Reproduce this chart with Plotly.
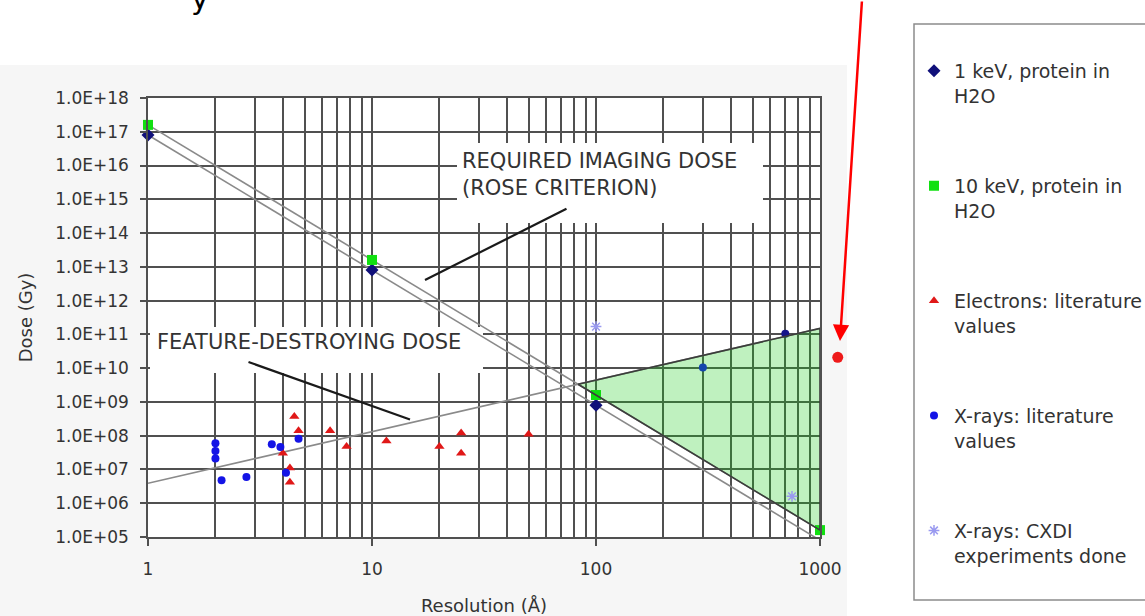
import math
import plotly.graph_objects as go

# ---------------- data ----------------
# Simulated Rose-criterion imaging dose (resolution in Å, dose in Gy)
res_sim = [1, 10, 100, 1000]
dose_1kev = [8e16, 8e12, 8e8, 8e4]
dose_10kev = [1.6e17, 1.6e13, 1.6e9, 1.6e5]

# Feature-destroying dose line (end points)
feature_res = [1, 1000]
feature_dose = [3.9e6, 1.5e11]

# Electron literature values
electron_res = [4.5, 4.7, 6.5, 7.7, 4.0, 4.3, 4.3, 11.6, 20, 25, 25, 50]
electron_dose = [3.7e8, 1.4e8, 1.4e8, 4.8e7, 3e7, 1.1e7, 4.2e6, 7e7, 4.8e7, 1.2e8, 3e7, 1.1e8]

# X-ray literature values
xray_res = [2, 2, 2, 2.13, 2.75, 3.57, 3.9, 4.13, 4.7, 300, 700]
xray_dose = [6e7, 3.5e7, 2.1e7, 4.8e6, 6e6, 5.6e7, 4.6e7, 8e6, 8.1e7, 1.05e10, 1.05e11]

# X-ray CXDI experiments
cxdi_res = [100, 750]
cxdi_dose = [1.7e11, 1.6e6]

# Highlighted point beyond the axis range
mark_res = [1200]
mark_dose = [2.1e10]

x_tick_vals = [1, 10, 100, 1000]
x_tick_text = ["1", "10", "100", "1000"]
y_tick_vals = [10.0 ** k for k in range(5, 19)]
y_tick_text = [f"{v:.1E}" for v in y_tick_vals]

legend_names = [
    "1 keV, protein in<br>H2O",
    "10 keV, protein in<br>H2O",
    "Electrons: literature<br>values",
    "X-rays: literature<br>values",
    "X-rays: CXDI<br>experiments done",
]

# ---------------- geometry helpers ----------------
W, H = 1145, 616
L, R, T, B = 148, 285, 98, 79
PW = W - L - R          # paper width in px
PH = H - T - B          # paper height in px
MAIN_W = 672            # width of the main plot area in px
X_DEC = 3               # decades on the x axis
Y_LO, Y_HI = 5, 18      # y axis range in log10


def px(xp):
    return (xp - L) / PW


def py(yp):
    return (H - B - yp) / PH


def xd(xp):
    # pixel column -> resolution value on the main axis
    return 10 ** (X_DEC * (xp - L) / MAIN_W)


def yd(yp):
    # pixel row -> dose value on the main axis
    return 10 ** (Y_LO + (Y_HI - Y_LO) * (H - B - yp) / PH)


FONT = "DejaVu Sans"
GRID = "#505050"
TXT = "#333333"

# Green region: between the feature-destroying line and the 10 keV line
fa = math.log10(feature_dose[0])
fb = (math.log10(feature_dose[1]) - fa) / (math.log10(feature_res[1]) - math.log10(feature_res[0]))
ga = math.log10(dose_10kev[0])
gb = (math.log10(dose_10kev[-1]) - ga) / (math.log10(res_sim[-1]) - math.log10(res_sim[0]))
lx = (ga - fa) / (fb - gb)
cross_res = 10 ** lx
cross_dose = 10 ** (fa + fb * lx)
fill_x = [cross_res, feature_res[1], res_sim[-1], cross_res]
fill_y = [cross_dose, feature_dose[1], dose_10kev[-1], cross_dose]

fig = go.Figure()

# trend lines
fig.add_trace(go.Scatter(x=feature_res, y=feature_dose, mode="lines",
                         line=dict(color="#8a8a8a", width=1.6), showlegend=False, hoverinfo="skip"))
fig.add_trace(go.Scatter(x=res_sim, y=dose_10kev, mode="lines",
                         line=dict(color="#8a8a8a", width=1.6), showlegend=False, hoverinfo="skip"))
fig.add_trace(go.Scatter(x=res_sim, y=dose_1kev, mode="lines",
                         line=dict(color="#8a8a8a", width=1.6), showlegend=False, hoverinfo="skip"))

# series markers
fig.add_trace(go.Scatter(x=res_sim, y=dose_1kev, mode="markers", name=legend_names[0],
                         legendgroup="g1", cliponaxis=False,
                         marker=dict(symbol="diamond", size=10, color="#10107a")))
fig.add_trace(go.Scatter(x=res_sim, y=dose_10kev, mode="markers", name=legend_names[1],
                         legendgroup="g2", cliponaxis=False,
                         marker=dict(symbol="square", size=10, color="#11e011")))
fig.add_trace(go.Scatter(x=electron_res, y=electron_dose, mode="markers", name=legend_names[2],
                         legendgroup="g3", cliponaxis=False,
                         marker=dict(symbol="triangle-up", size=9, color="#e01818")))
xray_colors = ["#1414e6"] * (len(xray_res) - 1) + ["#14148a"]
fig.add_trace(go.Scatter(x=xray_res, y=xray_dose, mode="markers", name=legend_names[3],
                         legendgroup="g4", cliponaxis=False,
                         marker=dict(symbol="circle", size=8, color=xray_colors)))

# shaded region
fig.add_trace(go.Scatter(x=fill_x, y=fill_y, mode="lines", fill="toself",
                         fillcolor="rgba(20,205,20,0.27)",
                         line=dict(color="#3c3c3c", width=1.6),
                         showlegend=False, hoverinfo="skip"))

fig.add_trace(go.Scatter(x=cxdi_res, y=cxdi_dose, mode="markers", name=legend_names[4],
                         legendgroup="g5", cliponaxis=False,
                         marker=dict(symbol="asterisk-open", size=9, color="#9a9af0",
                                     line=dict(width=1.5, color="#9a9af0"))))

# highlighted point on an extended, hidden axis pair
fig.add_trace(go.Scatter(x=mark_res, y=mark_dose, mode="markers", xaxis="x2", yaxis="y2",
                         showlegend=False, marker=dict(symbol="circle", size=11, color="#ee1a1a")))

shapes = [
    # light panel behind the chart
    dict(type="rect", xref="paper", yref="paper", x0=px(0), x1=px(847), y0=py(616), y1=py(65),
         fillcolor="#f6f6f6", line=dict(width=0), layer="below"),
    # white plot area
    dict(type="rect", xref="paper", yref="paper", x0=px(148), x1=px(820), y0=py(537), y1=py(98),
         fillcolor="white", line=dict(width=0), layer="below"),
    # white boxes behind the callout texts (above the grid, below the traces)
    dict(type="rect", xref="x", yref="y", x0=xd(457), x1=xd(763), y0=yd(223), y1=yd(143),
         fillcolor="white", line=dict(width=0), layer="between"),
    dict(type="rect", xref="x", yref="y", x0=xd(150), x1=xd(483), y0=yd(373), y1=yd(327),
         fillcolor="white", line=dict(width=0), layer="between"),
    # legend frame
    dict(type="rect", xref="paper", yref="paper", x0=px(914), x1=px(1160), y0=py(600), y1=py(24),
         fillcolor="rgba(0,0,0,0)", line=dict(color="#8c8c8c", width=1.5), layer="above"),
]

annotations = [
    dict(xref="paper", yref="paper", x=px(460), y=py(174), xanchor="left", yanchor="middle",
         text="REQUIRED IMAGING DOSE<br>(ROSE CRITERION)", showarrow=False, align="left",
         font=dict(family=FONT, size=21, color=TXT)),
    dict(xref="paper", yref="paper", x=px(155), y=py(342), xanchor="left", yanchor="middle",
         text="FEATURE-DESTROYING DOSE", showarrow=False, align="left",
         font=dict(family=FONT, size=21, color=TXT)),
    # callout pointers
    dict(xref="paper", yref="paper", x=px(425), y=py(280), ax=143, ay=-72, text="",
         showarrow=True, arrowhead=0, arrowwidth=2.2, arrowcolor="#1a1a1a", standoff=0),
    dict(xref="paper", yref="paper", x=px(410), y=py(419.5), ax=-163, ay=-58, text="",
         showarrow=True, arrowhead=0, arrowwidth=2.2, arrowcolor="#1a1a1a", standoff=0),
    # red pointer to the highlighted point
    dict(xref="paper", yref="paper", x=px(840), y=py(341), ax=22, ay=-345, text="",
         showarrow=True, arrowhead=2, arrowsize=1.3, arrowwidth=2.5, arrowcolor="#ff0000", standoff=0),
    # heading text running off the top edge
    dict(xref="paper", yref="paper", x=px(200), y=py(-1), xanchor="center", yanchor="middle",
         text="y", showarrow=False, font=dict(family=FONT, size=30, color="#000000")),
]

minor_vals = [m * 10 ** k for k in range(0, 3) for m in range(2, 10)]

fig.update_layout(
    width=W, height=H,
    margin=dict(l=L, r=R, t=T, b=B, autoexpand=False),
    paper_bgcolor="white", plot_bgcolor="rgba(0,0,0,0)",
    font=dict(family=FONT, color=TXT),
    shapes=shapes, annotations=annotations,
    xaxis=dict(type="log", range=[0, X_DEC], domain=[0, MAIN_W / PW], anchor="y",
               tickmode="array", tickvals=x_tick_vals, ticktext=x_tick_text,
               ticks="outside", ticklen=7, tickcolor=GRID, tickwidth=1.5,
               tickfont=dict(family=FONT, size=17, color=TXT), ticklabelstandoff=9,
               showgrid=True, gridcolor=GRID, gridwidth=1.5,
               showline=True, mirror=True, linecolor=GRID, linewidth=1.5,
               minor=dict(tickmode="array", tickvals=minor_vals, showgrid=True,
                          gridcolor=GRID, gridwidth=1.5, ticks=""),
               title=dict(text="Resolution (Å)", standoff=21,
                          font=dict(family=FONT, size=18, color=TXT)),
               zeroline=False),
    yaxis=dict(type="log", range=[Y_LO, Y_HI], anchor="x",
               tickmode="array", tickvals=y_tick_vals, ticktext=y_tick_text,
               ticks="outside", ticklen=6, tickcolor=GRID, tickwidth=1.5,
               tickfont=dict(family=FONT, size=17, color=TXT), ticklabelstandoff=8,
               showgrid=True, gridcolor=GRID, gridwidth=1.5,
               showline=True, mirror=True, linecolor=GRID, linewidth=1.5,
               title=dict(text="Dose (Gy)", standoff=18,
                          font=dict(family=FONT, size=18, color=TXT)),
               zeroline=False),
    xaxis2=dict(type="log", range=[0, X_DEC * PW / MAIN_W], domain=[0, 1], anchor="y2", visible=False),
    yaxis2=dict(type="log", range=[Y_LO, Y_HI], domain=[0, 1], anchor="x2", visible=False),
    legend=dict(x=px(914), y=py(52), xanchor="left", yanchor="top",
                bgcolor="rgba(0,0,0,0)", borderwidth=0, valign="top", maxheight=580,
                tracegroupgap=62.5, font=dict(family=FONT, size=19, color=TXT)),
)

fig.write_html("out.html")
